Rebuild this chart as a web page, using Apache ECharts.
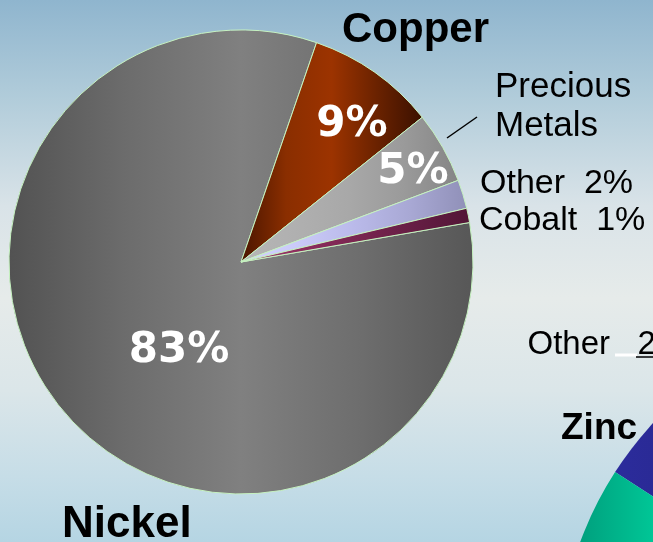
<!DOCTYPE html>
<html>
<head>
<meta charset="utf-8">
<script src="https://cdn.jsdelivr.net/npm/echarts@6/dist/echarts.min.js"></script>
<style>
  html, body { margin: 0; padding: 0; }
  #chart { width: 653px; height: 542px; }
</style>
</head>
<body>
<div id="chart"></div>
<script>
// Main pie: revenue share by metal
const categories = ['Nickel', 'Copper', 'Precious Metals', 'Other', 'Cobalt'];
const values = [83, 9, 5, 2, 1];

// Second (partially visible) pie
const secondCategories = ['Zinc', 'Other', 'Rest'];
const secondValues = [20, 2, 78];
const secondLabels = ['Zinc', 'Other   2'];

const grad = (stops) => ({
  type: 'linear', x: 0, y: 0, x2: 1, y2: 0,
  colorStops: stops.map((c, i) => ({ offset: i / (stops.length - 1), color: c }))
});

const sliceColors = [
  grad(['#525252', '#6c6c6c', '#808080', '#6e6e6e', '#575757']),
  grad(['#4a1500', '#8a2e00', '#9c3300', '#6a2200', '#3a1000']),
  grad(['#b6b6b6', '#b0b0b0', '#a8a8a8', '#9a9a9a', '#858585']),
  grad(['#d2d2ff', '#cacaf8', '#babaea', '#a8a8d4', '#9090b8']),
  grad(['#a33a70', '#8e2e5e', '#7a2650', '#661e44', '#521636'])
];

const secondColors = [
  { type: 'linear', x: 600, y: 0, x2: 653, y2: 0, global: true,
    colorStops: [{ offset: 0, color: '#2c2c9e' }, { offset: 1, color: '#2a2a96' }] },
  '#3a3aa8',
  { type: 'linear', x: 580, y: 0, x2: 653, y2: 0, global: true,
    colorStops: [{ offset: 0, color: '#00a07e' }, { offset: 1, color: '#00c696' }] }
];

const chart = echarts.init(document.getElementById('chart'), null, { renderer: 'canvas' });

const txt = (x, y, text, size, weight, family, fill, align) => ({
  type: 'text', z: 100, silent: true,
  style: {
    x: x, y: y, text: text, fill: fill || '#000',
    fontSize: size, fontWeight: weight || 'normal',
    fontFamily: family || '"Liberation Sans", Arial, sans-serif',
    textAlign: align || 'left', textVerticalAlign: 'middle', lineHeight: 39
  }
});
const pct = (i) => values[i] + '%';
const boldFam = '"Liberation Sans", Arial, sans-serif';
const pctFam = '"DejaVu Sans", Verdana, sans-serif';

const option = {
  animation: false,
  graphic: [
    {
      type: 'rect', z: -10, silent: true,
      shape: { x: 0, y: 0, width: 653, height: 542 },
      style: {
        fill: {
          type: 'linear', x: 0, y: 0, x2: 0, y2: 1,
          colorStops: [
            { offset: 0.0, color: '#8fb5ce' },
            { offset: 0.18, color: '#b1ccda' },
            { offset: 0.38, color: '#d9e3e8' },
            { offset: 0.55, color: '#e6ebea' },
            { offset: 0.72, color: '#dbe6e9' },
            { offset: 0.88, color: '#c6dde7' },
            { offset: 1.0, color: '#b5d5e3' }
          ]
        }
      }
    },
    // outside category labels
    txt(342, 30, categories[1], 42, 'bold', boldFam),
    txt(62, 525, categories[0], 44, 'bold', boldFam),
    txt(495, 106.5, categories[2].replace(' ', '\n'), 35),
    txt(480, 184, categories[3] + '  ' + pct(3), 34),
    txt(479, 221, categories[4] + '  ' + pct(4), 34),
    // inside percentage labels
    txt(179, 351, pct(0), 42, 'bold', pctFam, '#ffffff', 'center'),
    txt(352, 125, pct(1), 42, 'bold', pctFam, '#ffffff', 'center'),
    txt(413, 172, pct(2), 42, 'bold', pctFam, '#ffffff', 'center'),
    // leader line for Precious Metals
    { type: 'line', z: 100, silent: true, shape: { x1: 447, y1: 138, x2: 477, y2: 117 },
      style: { stroke: '#000', lineWidth: 1.5 } },
    // second chart labels
    txt(561, 429, secondLabels[0], 37, 'bold', boldFam),
    txt(527.5, 345, secondLabels[1] + '%', 33),
    { type: 'line', z: 101, silent: true, shape: { x1: 615, y1: 355, x2: 637, y2: 355 },
      style: { stroke: '#ffffff', lineWidth: 3 } },
    { type: 'line', z: 101, silent: true, shape: { x1: 636, y1: 357, x2: 653, y2: 357 },
      style: { stroke: '#000000', lineWidth: 1.5 } }
  ],
  series: [
    {
      type: 'pie',
      center: [241, 262],
      radius: 232,
      startAngle: 9.8,
      clockwise: true,
      silent: true,
      label: { show: false },
      labelLine: { show: false },
      itemStyle: { borderColor: '#c6f2c0', borderWidth: 1 },
      data: categories.map((c, i) => ({
        name: c, value: values[i], itemStyle: { color: sliceColors[i] }
      }))
    },
    {
      type: 'pie',
      center: [916, 666],
      radius: 358,
      startAngle: 147.2,
      clockwise: true,
      silent: true,
      label: { show: false },
      labelLine: { show: false },
      itemStyle: { borderWidth: 0 },
      data: secondCategories.map((c, i) => ({
        name: c, value: secondValues[i], itemStyle: { color: secondColors[i] }
      }))
    }
  ]
};
chart.setOption(option);
</script>
</body>
</html>
